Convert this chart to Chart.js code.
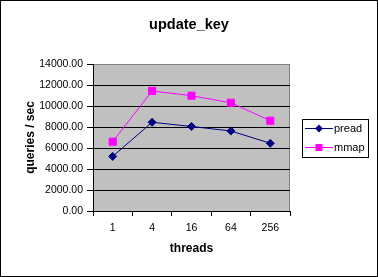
<!DOCTYPE html>
<html>
<head>
<meta charset="utf-8">
<script src="https://cdn.jsdelivr.net/npm/chart.js@4.4.0/dist/chart.umd.min.js"></script>
<style>
  html, body { margin: 0; padding: 0; background: #fff; }
  canvas { display: block; }
</style>
</head>
<body>
<canvas id="chart" width="378" height="277"></canvas>
<script>
// data
const threads = ['1', '4', '16', '64', '256'];
const pread = [5200, 8450, 8050, 7620, 6450];
const mmap = [6600, 11430, 10980, 10310, 8600];
const yTicks = [0, 2000, 4000, 6000, 8000, 10000, 12000, 14000];

const FONT = 'Liberation Sans, Arial, sans-serif';

// white page, black outer frame, grey plot area with grey top/right border
const frame = {
    id: 'frame',
    beforeDraw(chart) {
        const ctx = chart.ctx;
        const a = chart.chartArea;
        ctx.save();
        ctx.fillStyle = '#fff';
        ctx.fillRect(0, 0, chart.width, chart.height);
        ctx.fillStyle = '#c0c0c0';
        ctx.fillRect(a.left, a.top, a.right - a.left, a.bottom - a.top);
        ctx.strokeStyle = '#808080';
        ctx.lineWidth = 1;
        ctx.strokeRect(Math.round(a.left) + 0.5, Math.round(a.top) + 0.5,
            Math.round(a.right - a.left) - 1, Math.round(a.bottom - a.top));
        ctx.restore();
    },
    afterDraw(chart) {
        const ctx = chart.ctx;
        ctx.save();
        ctx.strokeStyle = '#000';
        ctx.lineWidth = 1;
        ctx.strokeRect(0.5, 0.5, chart.width - 1, chart.height - 1);
        ctx.restore();
    }
};

// Excel style legend box on the right
const boxLegend = {
    id: 'boxLegend',
    afterDraw(chart) {
        const ctx = chart.ctx;
        const x = 302, y = 119, w = 66, h = 38;
        ctx.save();
        ctx.fillStyle = '#fff';
        ctx.fillRect(x, y, w, h);
        ctx.strokeStyle = '#000';
        ctx.lineWidth = 1;
        ctx.strokeRect(x + 0.5, y + 0.5, w, h);
        ctx.font = '11px ' + FONT;
        ctx.textBaseline = 'middle';
        chart.data.datasets.forEach((ds, i) => {
            const cy = 128.5 + i * 19;
            ctx.strokeStyle = ds.borderColor;
            ctx.beginPath();
            ctx.moveTo(305, cy);
            ctx.lineTo(333, cy);
            ctx.stroke();
            ctx.fillStyle = ds.borderColor;
            ctx.beginPath();
            if (ds.pointStyle === 'rectRot') {
                ctx.moveTo(319, cy - 4);
                ctx.lineTo(323, cy);
                ctx.lineTo(319, cy + 4);
                ctx.lineTo(315, cy);
                ctx.closePath();
            } else {
                ctx.rect(315.5, cy - 3.5, 7, 7);
            }
            ctx.fill();
            ctx.fillStyle = '#000';
            ctx.fillText(ds.label, 334, cy);
        });
        ctx.restore();
    }
};

new Chart(document.getElementById('chart'), {
    type: 'line',
    data: {
        labels: threads,
        datasets: [
            {
                label: 'pread',
                data: pread,
                borderColor: '#000080',
                backgroundColor: '#000080',
                borderWidth: 1,
                pointStyle: 'rectRot',
                pointRadius: 4,
                pointBorderWidth: 1,
                tension: 0
            },
            {
                label: 'mmap',
                data: mmap,
                borderColor: '#ff00ff',
                backgroundColor: '#ff00ff',
                borderWidth: 1,
                pointStyle: 'rect',
                pointRadius: 5,
                pointBorderWidth: 1,
                tension: 0
            }
        ]
    },
    options: {
        responsive: false,
        animation: false,
        devicePixelRatio: 1,
        layout: { padding: 0 },
        plugins: {
            legend: { display: false },
            tooltip: { enabled: false },
            title: {
                display: true,
                text: 'update_key',
                color: '#000',
                font: { family: FONT, size: 14.5, weight: 'bold' },
                padding: { top: 16, bottom: 30.6 }
            }
        },
        scales: {
            x: {
                offset: true,
                afterFit: s => { s.height = 66; },
                grid: {
                    offset: true,
                    drawOnChartArea: false,
                    drawTicks: true,
                    tickLength: 5,
                    color: '#000'
                },
                border: { color: '#000', width: 1 },
                ticks: {
                    color: '#000',
                    padding: 6,
                    maxRotation: 0,
                    font: { family: FONT, size: 10.5 }
                },
                title: {
                    display: true,
                    text: 'threads',
                    color: '#000',
                    font: { family: FONT, size: 12, weight: 'bold' },
                    padding: { top: 0, bottom: 21 }
                }
            },
            y: {
                min: 0,
                max: 14000,
                afterFit: s => { s.width = 93; },
                afterBuildTicks: s => { s.ticks = yTicks.map(v => ({ value: v })); },
                grid: {
                    color: c => (c.tick && c.tick.value === 14000 ? '#808080' : '#000'),
                    tickColor: '#000',
                    tickLength: 6,
                    lineWidth: 1
                },
                border: { color: '#000', width: 1 },
                ticks: {
                    color: '#000',
                    padding: 4,
                    font: { family: FONT, size: 10.5 },
                    callback: v => Number(v).toFixed(2)
                },
                title: {
                    display: true,
                    text: 'queries / sec',
                    color: '#000',
                    font: { family: FONT, size: 12, weight: 'bold' },
                    padding: { top: 23, bottom: 0 }
                }
            },
            // empty right-hand axis that reserves the space where the legend sits
            legendSpace: {
                type: 'linear',
                position: 'right',
                afterFit: s => { s.width = 88; },
                grid: { display: false },
                border: { display: false },
                ticks: { display: false }
            }
        }
    },
    plugins: [frame, boxLegend]
});
</script>
</body>
</html>
